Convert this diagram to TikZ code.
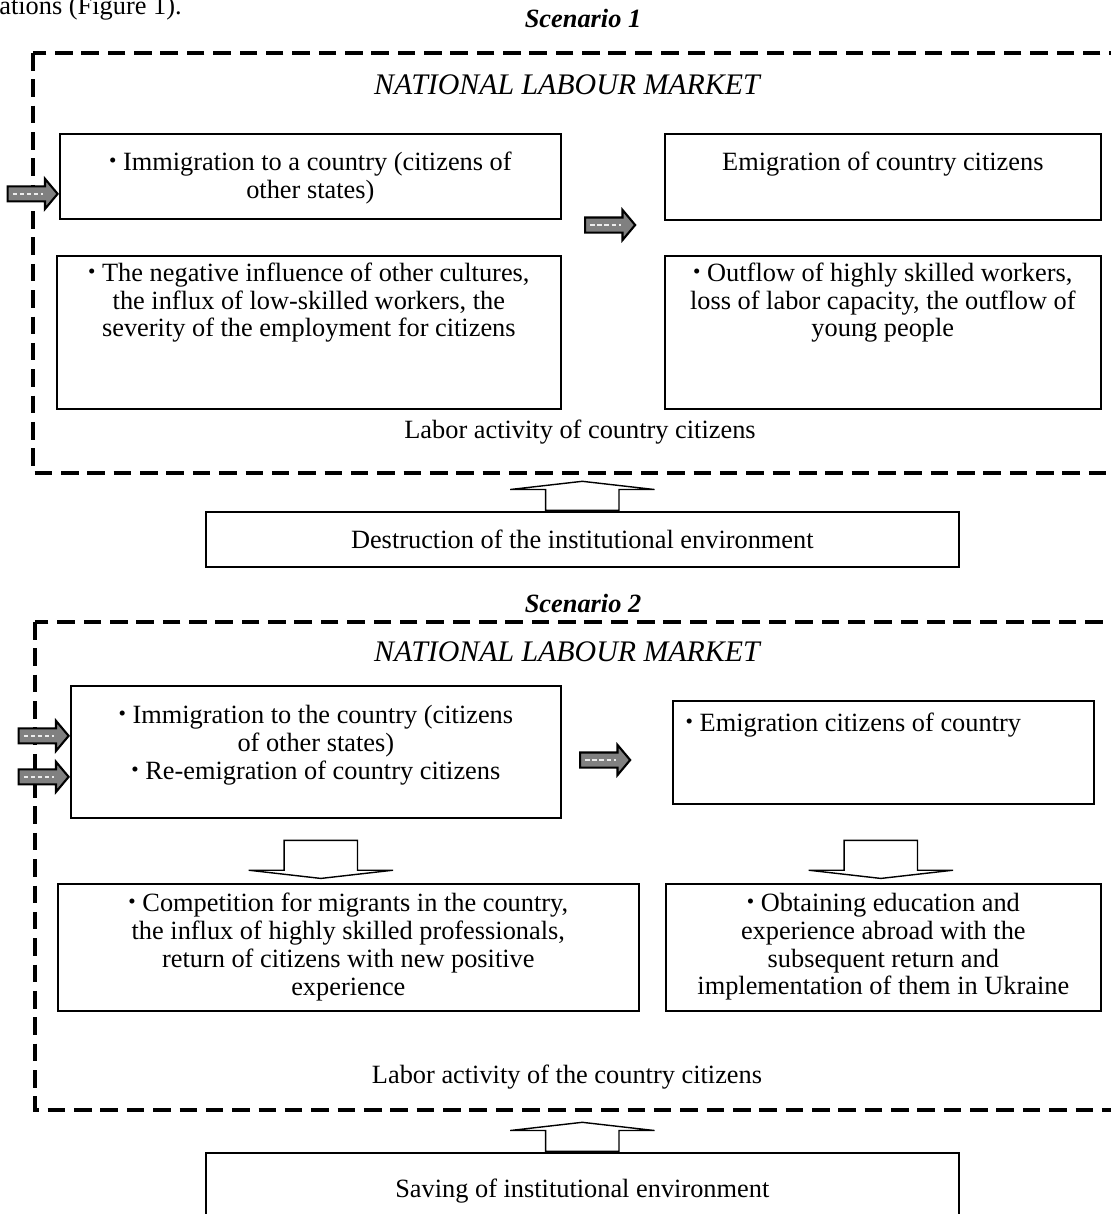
\documentclass[tikz,border=0pt]{standalone}
\usepackage{fontspec}
\setmainfont{Liberation Serif}
\usetikzlibrary{positioning,shapes.arrows,calc}
\newcommand{\bul}{\raisebox{0.25ex}{\scalebox{0.8}{\textbullet}}\ }

\begin{document}
\begin{tikzpicture}[x=0.02cm,y=-0.02cm,node distance=1ex,
  every node/.style={font=\fontsize{15}{15.8}\selectfont},
  box/.style={draw,line width=1pt,inner sep=0pt,anchor=north west},
  txt/.style={align=center,inner sep=0pt},
  frame/.style={line width=1.8pt,dash pattern=on 10pt off 5pt},
  grayarrow/.style={single arrow,draw,line width=1.2pt,fill=gray,
    minimum height=1cm,inner xsep=0pt,inner ysep=0.13cm,
    single arrow head extend=0.15cm,single arrow tip angle=100},
  dots/.style={white!85!gray,line width=1.3pt,dash pattern=on 2.5pt off 1.5pt},
  blockarrow/.style={single arrow,draw,line width=0.8pt,fill=white,
    inner xsep=0pt,inner ysep=0.72cm,single arrow head extend=0.71cm,
    single arrow tip angle=167}]

  \clip (0,0) rectangle (1111,1214);

  \node [anchor=base west,inner sep=0pt] (fig) at (-1,14) {ations (Figure 1).};

  % scenario 1
  \node (sc1) at (583,18) {\bfseries\itshape Scenario 1};
  \draw [frame] (33,53) rectangle (1135,473);
  \node (nlm1) at (567,85) {\fontsize{17}{18}\selectfont\itshape NATIONAL LABOUR MARKET};

  \node [box,minimum width=10.02cm,minimum height=1.7cm] (A1) at (59,133) {};
  \node [txt,below=0.38cm of A1.north] {\bul Immigration to a country (citizens of\\other states)};

  \node [box,minimum width=8.72cm,minimum height=1.72cm] (B1) at (664,133) {};
  \node [txt,below=0.38cm of B1.north] {Emigration of country citizens};

  \node [box,minimum width=10.08cm,minimum height=3.06cm] (A2) at (56,255) {};
  \node [txt,below=0.15cm of A2.north] {\bul The negative influence of other cultures,\\
    the influx of low-skilled workers, the\\severity of the employment for citizens};

  \node [box,minimum width=8.72cm,minimum height=3.06cm] (B2) at (664,255) {};
  \node [txt,below=0.15cm of B2.north] {\bul Outflow of highly skilled workers,\\
    loss of labor capacity, the outflow of\\young people};

  \node (lab1) at (580,432) {Labor activity of country citizens};

  \node [grayarrow,anchor=tip] (g1) at ([yshift=-0.35cm]A1.west) {};
  \node [grayarrow] (g2) at (607,225) {};

  \node [box,minimum width=15.06cm,minimum height=1.1cm] (D) at (205,511)
        {Destruction of the institutional environment};
  \node [blockarrow,rotate=90,minimum height=0.58cm,anchor=tail] (u1) at (D.north) {};

  % scenario 2
  \node (sc2) at (583,603) {\bfseries\itshape Scenario 2};
  \draw [frame] (35,622) rectangle (1135,1110);
  \node (nlm2) at (567,652) {\fontsize{17}{18}\selectfont\itshape NATIONAL LABOUR MARKET};

  \node [box,minimum width=9.8cm,minimum height=2.64cm] (C1) at (70,685) {};
  \node [txt,below=0.4cm of C1.north] {\bul Immigration to the country (citizens\\
    of other states)\\\bul Re-emigration of country citizens};

  \node [box,minimum width=8.42cm,minimum height=2.06cm] (D1) at (672,700) {};
  \node [txt,below=0.26cm of D1.north,xshift=-0.6cm] {\bul Emigration citizens of country};

  \node [grayarrow,anchor=tip] (g3) at ([yshift=0.32cm]C1.west) {};
  \node [grayarrow,anchor=tip] (g4) at ([yshift=-0.5cm]C1.west) {};
  \node [grayarrow] (g5) at (602,760) {};

  \node [blockarrow,rotate=-90,minimum height=0.76cm,anchor=tail] (d1)
        at ([xshift=0.1cm,yshift=-0.42cm]C1.south) {};
  \node [blockarrow,rotate=-90,minimum height=0.76cm,anchor=tail] (d2)
        at ([xshift=-0.05cm,yshift=-0.7cm]D1.south) {};

  \node [box,minimum width=11.62cm,minimum height=2.54cm] (E1) at (57,883) {};
  \node [txt,below=0.2cm of E1.north] {\bul Competition for migrants in the country,\\
    the influx of highly skilled professionals,\\return of citizens with new positive\\experience};

  \node [box,minimum width=8.7cm,minimum height=2.54cm] (F1) at (665,883) {};
  \node [txt,below=0.2cm of F1.north] {\bul Obtaining education and\\
    experience abroad with the\\subsequent return and\\implementation of them in Ukraine};

  \node (lab2) at (567,1077) {Labor activity of the country citizens};

  \node [box,minimum width=15.06cm,minimum height=1.52cm] (S) at (205,1152)
        {Saving of institutional environment};
  \node [blockarrow,rotate=90,minimum height=0.58cm,anchor=tail] (u2) at (S.north) {};

  \foreach \g in {g1,g2,g3,g4,g5}
    \draw [dots] ($(\g.tail)!0.12!(\g.tip)$) -- ($(\g.tail)!0.7!(\g.tip)$);

\end{tikzpicture}
\end{document}
